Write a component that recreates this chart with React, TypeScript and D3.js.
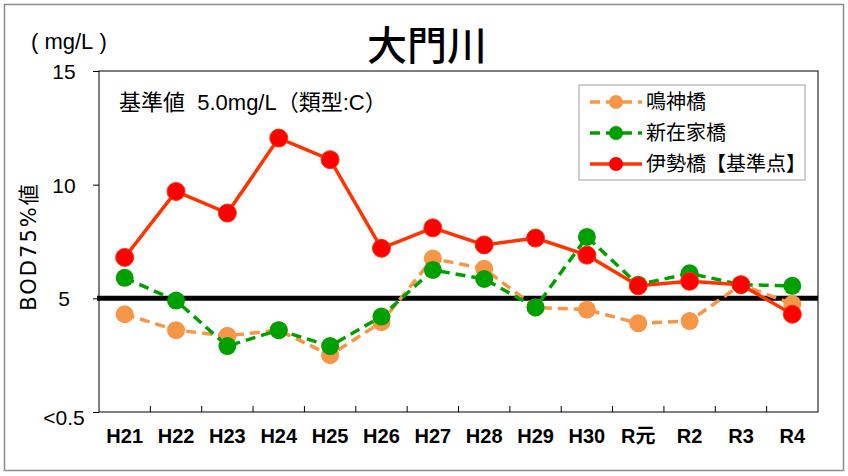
import React, { useRef, useEffect } from 'react';
import * as d3 from 'd3';

const years = ['H21', 'H22', 'H23', 'H24', 'H25', 'H26', 'H27', 'H28', 'H29', 'H30', 'R元', 'R2', 'R3', 'R4'];
const narukami = [4.3, 3.6, 3.35, 3.6, 2.5, 3.95, 6.75, 6.3, 4.6, 4.5, 3.9, 4.0, 5.6, 4.75];
const shinzaike = [5.9, 4.9, 2.9, 3.6, 2.9, 4.2, 6.25, 5.85, 4.6, 7.7, 5.6, 6.1, 5.6, 5.55];
const isebashi = [6.8, 9.7, 8.75, 12.05, 11.1, 7.2, 8.1, 7.35, 7.65, 6.9, 5.55, 5.75, 5.6, 4.3];
const yTicks = [0, 5, 10, 15];
const yTickLabels = ['<0.5', '5', '10', '15'];
const standardValue = 5;

const seriesList = [
  { name: '鳴神橋', values: narukami, color: '#F79646', dashed: true },
  { name: '新在家橋', values: shinzaike, color: '#00A000', dashed: true },
  { name: '伊勢橋【基準点】', values: isebashi, color: '#FF3300', dashed: false },
];

const FONT = '"Liberation Sans", "Noto Sans CJK JP", sans-serif';
const WIDE_FONT = '"DejaVu Sans", "Noto Sans CJK JP", sans-serif';

export default function App() {
  const svgRef = useRef<SVGSVGElement>(null);

  useEffect(() => {
    const width = 848;
    const height = 476;
    const marginLeft = 99;
    const marginRight = 30;
    const marginTop = 71;
    const marginBottom = 64;

    const svg = d3.select(svgRef.current);
    svg.selectAll('*').remove();
    svg.attr('width', width).attr('height', height).attr('viewBox', [0, 0, width, height])
      .style('font-family', FONT);

    svg.append('rect')
      .attr('x', 4.5).attr('y', 4.5).attr('width', width - 9).attr('height', height - 10)
      .attr('fill', '#fff').attr('stroke', '#8c8c8c').attr('stroke-width', 1.5);

    const x = d3.scaleBand()
      .domain(years)
      .range([marginLeft, width - marginRight]);

    const y = d3.scaleLinear()
      .domain([0, 15])
      .range([height - marginBottom, marginTop]);

    // plot frame
    svg.append('rect')
      .attr('x', marginLeft).attr('y', marginTop)
      .attr('width', width - marginRight - marginLeft)
      .attr('height', height - marginBottom - marginTop)
      .attr('fill', 'none').attr('stroke', '#000').attr('stroke-width', 1);

    // y axis
    const yAxis = svg.append('g')
      .attr('transform', `translate(${marginLeft},0)`)
      .call(d3.axisLeft(y).tickValues(yTicks).tickSize(6).tickFormat((d, i) => yTickLabels[i]));
    yAxis.select('.domain').remove();
    yAxis.selectAll('text')
      .attr('x', -35)
      .attr('dy', (d: any) => (d === 0 ? '0.6em' : '0.35em'))
      .attr('text-anchor', 'middle')
      .attr('font-size', 21)
      .attr('font-family', FONT)
      .attr('fill', '#000');

    // x axis
    const xAxis = svg.append('g')
      .attr('transform', `translate(0,${height - marginBottom})`)
      .call(d3.axisBottom(x).tickSize(0));
    xAxis.select('.domain').remove();
    xAxis.selectAll('text')
      .attr('y', 17)
      .attr('font-size', 20)
      .attr('font-weight', 'bold')
      .attr('font-family', FONT)
      .attr('fill', '#000');
    svg.append('g')
      .selectAll('line')
      .data(years.slice(1))
      .join('line')
      .attr('x1', d => x(d)!)
      .attr('x2', d => x(d)!)
      .attr('y1', height - marginBottom)
      .attr('y2', height - marginBottom - 6)
      .attr('stroke', '#000');

    // standard line
    svg.append('line')
      .attr('x1', marginLeft - 2).attr('x2', width - marginRight)
      .attr('y1', y(standardValue)).attr('y2', y(standardValue))
      .attr('stroke', '#000').attr('stroke-width', 5);

    const cx = (i: number) => x(years[i])! + x.bandwidth() / 2;
    const line = d3.line<number>().x((d, i) => cx(i)).y(d => y(d));

    seriesList.forEach(s => {
      svg.append('path')
        .datum(s.values)
        .attr('d', line)
        .attr('fill', 'none')
        .attr('stroke', s.color)
        .attr('stroke-width', 3.5)
        .attr('stroke-dasharray', s.dashed ? '10,6' : null);
      svg.append('g')
        .selectAll('circle')
        .data(s.values)
        .join('circle')
        .attr('cx', (d, i) => cx(i))
        .attr('cy', d => y(d))
        .attr('r', 9)
        .attr('fill', s.dashed ? s.color : '#FF0000')
        .attr('stroke', s.dashed ? 'none' : '#FF3300')
        .attr('stroke-width', 1);
    });

    // title & labels
    svg.append('text')
      .attr('x', 427).attr('y', 60)
      .attr('text-anchor', 'middle')
      .attr('font-size', 40)
      .attr('font-weight', 500)
      .attr('font-family', '"Noto Sans CJK JP", sans-serif')
      .text('大門川');

    svg.append('text')
      .attr('x', 31).attr('y', 49)
      .attr('font-size', 22)
      .text('(\u00a0mg/L\u00a0)');

    svg.append('text')
      .attr('transform', `translate(36,${(marginTop + height - marginBottom) / 2 + 5}) rotate(-90)`)
      .attr('text-anchor', 'middle')
      .attr('font-size', 21)
      .attr('letter-spacing', 2)
      .attr('font-family', WIDE_FONT)
      .text('BOD75%値');

    svg.append('text')
      .attr('x', 119).attr('y', 110)
      .attr('font-size', 22)
      .text('基準値\u00a0\u00a05.0mg/L（類型:C）');

    // legend
    const legend = svg.append('g').attr('transform', 'translate(579,85)');
    legend.append('rect')
      .attr('width', 226).attr('height', 95)
      .attr('fill', '#fff').attr('stroke', '#a0a0a0');
    seriesList.forEach((s, i) => {
      const ly = 17 + i * 31;
      legend.append('line')
        .attr('x1', 11).attr('x2', 63).attr('y1', ly).attr('y2', ly)
        .attr('stroke', s.color).attr('stroke-width', 3.5)
        .attr('stroke-dasharray', s.dashed ? '10,6' : null);
      legend.append('circle')
        .attr('cx', 37).attr('cy', ly).attr('r', 7)
        .attr('fill', s.dashed ? s.color : '#FF0000');
      legend.append('text')
        .attr('x', 67).attr('y', ly + 7)
        .attr('font-size', 20)
        .attr('font-family', '"Noto Sans CJK JP", sans-serif')
        .text(s.name);
    });
  }, []);

  return (
    <div style={{ position: 'absolute', left: 0, top: 0 }}>
      <svg ref={svgRef}></svg>
    </div>
  );
}
